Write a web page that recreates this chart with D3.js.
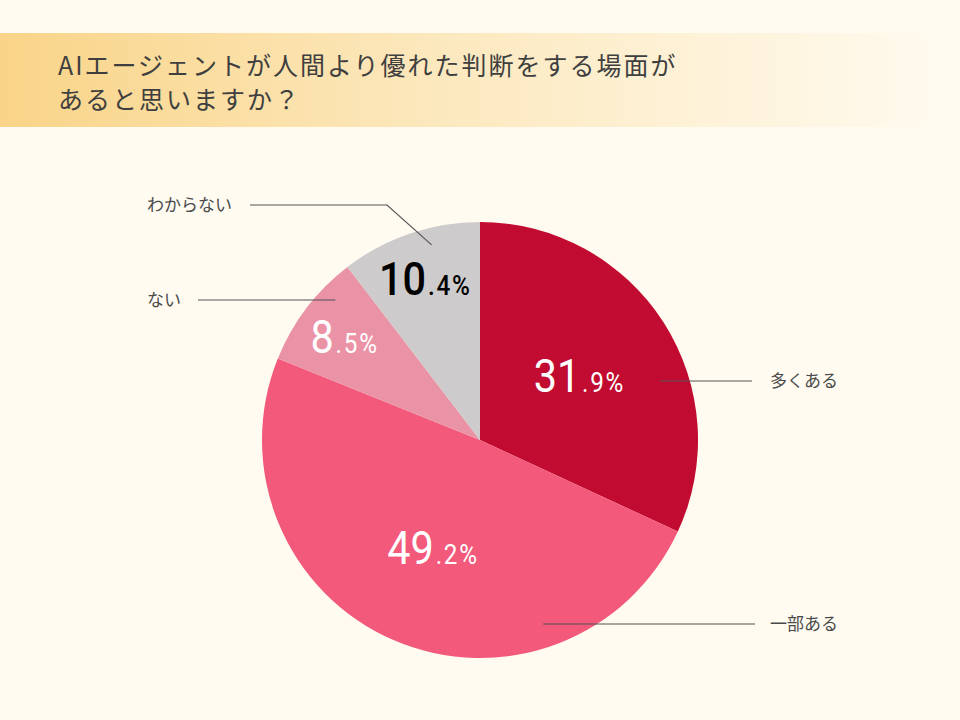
<!DOCTYPE html>
<html>
<head>
<meta charset="utf-8">
<script src="https://cdn.jsdelivr.net/npm/d3@7"></script>
<style>
  html, body { margin: 0; padding: 0; background: #fffbf1; }
  svg { display: block; }
</style>
</head>
<body>
<div class="pieChart"></div>
<script>
// chart data
var categories = ["多くある", "一部ある", "ない", "わからない"];
var values = [31.9, 49.2, 8.5, 10.4];
var colors = ["#c20b30", "#f2597a", "#eb93a6", "#cdcbcb"];
var valueColors = ["#ffffff", "#ffffff", "#ffffff", "#000000"];
var titleLines = ["AIエージェントが人間より優れた判断をする場面が", "あると思いますか？"];

plotPieChart();

function plotPieChart() {
  var width = 960,
      height = 720,
      cx = 480,
      cy = 440,
      radius = 218;

  var svg = d3.select(".pieChart")
    .append("svg")
    .attr("width", width)
    .attr("height", height)
    .attr("id", "pieChart");

  // background + title band
  var defs = svg.append("defs");
  var grad = defs.append("linearGradient").attr("id", "band")
    .attr("x1", "0%").attr("x2", "100%").attr("y1", "0%").attr("y2", "0%");
  grad.append("stop").attr("offset", "0%").attr("stop-color", "#f9d488");
  grad.append("stop").attr("offset", "45%").attr("stop-color", "#fce8bd");
  grad.append("stop").attr("offset", "100%").attr("stop-color", "#fffbf1");

  svg.append("rect").attr("width", width).attr("height", height).attr("fill", "#fffbf1");
  svg.append("rect").attr("x", 0).attr("y", 33).attr("width", width).attr("height", 94)
    .attr("fill", "url(#band)");

  svg.append("g").selectAll("text")
    .data(titleLines)
    .enter()
    .append("text")
    .attr("x", 58)
    .attr("y", function(d, i) { return 75 + i * 34; })
    .attr("fill", "#3f3f3f")
    .style("font-family", "'Noto Sans CJK JP', sans-serif")
    .style("font-size", "25px")
    .style("letter-spacing", "2px")
    .text(function(d) { return d; });

  var g = svg.append("g").attr("transform", "translate(" + cx + "," + cy + ")");

  var pie = d3.pie()
    .value(function(d) { return d; })
    .sort(null);

  var arc = d3.arc()
    .innerRadius(0)
    .outerRadius(radius);

  var arcs = g.selectAll(".arc")
    .data(pie(values))
    .enter()
    .append("g")
    .attr("class", "arc");

  arcs.append("path")
    .attr("fill", function(d, i) { return colors[i]; })
    .attr("d", arc);

  // leader lines (start angle within slice, label height, label x)
  var leaders = [
    { angle: 1.253, r: 189, y: 381, x2: 752, lx: 770 },
    { angle: 2.81,  r: 194, y: 624, x2: 755, lx: 770 },
    { angle: 5.48,  r: 201, y: 300, x2: 198, lx: 147 },
    { angle: 6.04,  r: 201, y: 205, x2: 250, lx: 147, bend: 387 }
  ];

  var lineG = svg.append("g");
  leaders.forEach(function(l, i) {
    var sx = cx + l.r * Math.sin(l.angle),
        sy = cy - l.r * Math.cos(l.angle);
    var pts = [[sx, sy]];
    if (l.bend) {
      pts.push([l.bend, l.y]);
    } else {
      pts[0][1] = l.y;
    }
    pts.push([l.x2, l.y]);
    lineG.append("path")
      .attr("d", d3.line()(pts))
      .attr("fill", "none")
      .attr("stroke", "#555555")
      .attr("stroke-width", 1.2);
    lineG.append("text")
      .attr("x", l.lx)
      .attr("y", l.y + 6)
      .attr("fill", "#4a4a4a")
      .style("font-family", "'Noto Sans CJK JP', sans-serif")
      .style("font-size", "17px")
      .text(categories[i]);
  });

  // percentage labels
  var labelArc = function(d) {
    var r = (d.endAngle - d.startAngle) > 1.2 ? 118 : 170;
    return d3.arc().innerRadius(r).outerRadius(r).centroid(d);
  };

  var vt = arcs.append("text")
    .attr("transform", function(d) { return "translate(" + labelArc(d) + ") scale(0.9,1)"; })
    .attr("text-anchor", "middle")
    .attr("dy", "16px")
    .attr("fill", function(d, i) { return valueColors[i]; })
    .style("font-family", "Roboto, 'Noto Sans', sans-serif")
    .style("font-weight", function(d, i) { return i === 3 ? 500 : 400; });

  vt.append("tspan")
    .style("font-size", "46px")
    .text(function(d) { return String(d.data).split(".")[0]; });
  vt.append("tspan")
    .style("font-size", "27px")
    .attr("dx", "2px")
    .style("letter-spacing", "2px")
    .text(function(d) { return "." + String(d.data).split(".")[1] + "%"; });
}
</script>
</body>
</html>
